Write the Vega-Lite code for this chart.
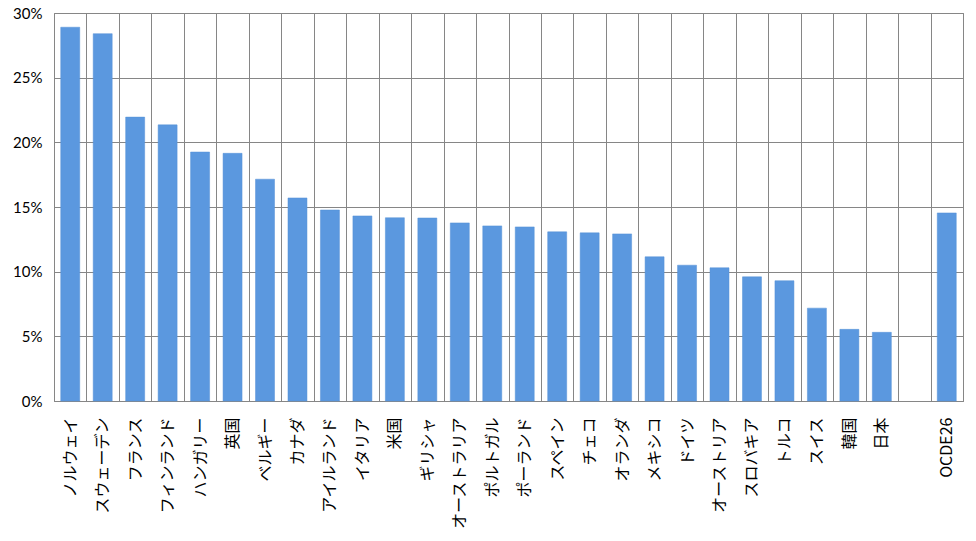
{
  "$schema": "https://vega.github.io/schema/vega-lite/v6.json",
  "width": 909,
  "height": 388,
  "autosize": {"type": "none"},
  "padding": {"left": 54, "top": 13, "right": 13, "bottom": 140},
  "background": "white",
  "config": {
    "view": {"stroke": "#868686", "strokeWidth": 1},
    "axis": {"gridColor": "#868686", "gridOpacity": 1, "gridWidth": 1}
  },
  "data": {
    "values": [
      {"country": "ノルウェイ", "rate": 28.9},
      {"country": "スウェーデン", "rate": 28.4},
      {"country": "フランス", "rate": 21.95},
      {"country": "フィンランド", "rate": 21.35},
      {"country": "ハンガリー", "rate": 19.25},
      {"country": "英国", "rate": 19.15},
      {"country": "ベルギー", "rate": 17.15},
      {"country": "カナダ", "rate": 15.7},
      {"country": "アイルランド", "rate": 14.77},
      {"country": "イタリア", "rate": 14.31},
      {"country": "米国", "rate": 14.17},
      {"country": "ギリシャ", "rate": 14.15},
      {"country": "オーストラリア", "rate": 13.77},
      {"country": "ポルトガル", "rate": 13.54},
      {"country": "ポーランド", "rate": 13.46},
      {"country": "スペイン", "rate": 13.08},
      {"country": "チェコ", "rate": 13.0},
      {"country": "オランダ", "rate": 12.92},
      {"country": "メキシコ", "rate": 11.15},
      {"country": "ドイツ", "rate": 10.5},
      {"country": "オーストリア", "rate": 10.3},
      {"country": "スロバキア", "rate": 9.6},
      {"country": "トルコ", "rate": 9.3},
      {"country": "スイス", "rate": 7.18},
      {"country": "韓国", "rate": 5.54},
      {"country": "日本", "rate": 5.31},
      {"country": "OCDE26", "rate": 14.54}
    ]
  },
  "mark": {"type": "bar", "color": "#5B98DF", "stroke": "#5590D6", "strokeWidth": 0.5, "width": {"band": 0.585}},
  "encoding": {
    "x": {
      "field": "country",
      "type": "nominal",
      "title": null,
      "scale": {
        "domain": ["ノルウェイ", "スウェーデン", "フランス", "フィンランド", "ハンガリー", "英国", "ベルギー", "カナダ", "アイルランド", "イタリア", "米国", "ギリシャ", "オーストラリア", "ポルトガル", "ポーランド", "スペイン", "チェコ", "オランダ", "メキシコ", "ドイツ", "オーストリア", "スロバキア", "トルコ", "スイス", "韓国", "日本", "_blank", "OCDE26"],
        "paddingInner": 0,
        "paddingOuter": 0
      },
      "axis": {
        "labelAngle": -90,
        "labelAlign": "right",
        "labelBaseline": "middle",
        "labelFont": "Noto Sans CJK JP",
        "labelFontSize": 16,
        "labelColor": "black",
        "labelPadding": 16,
        "labelExpr": "datum.label == '_blank' ? '' : datum.label",
        "ticks": false,
        "domainColor": "#868686",
        "grid": true,
        "tickBand": "extent"
      }
    },
    "y": {
      "field": "rate",
      "type": "quantitative",
      "title": null,
      "scale": {"domain": [0, 30], "nice": false},
      "axis": {
        "values": [0, 5, 10, 15, 20, 25, 30],
        "labelExpr": "datum.value + '%'",
        "labelFont": "Lato",
        "labelFontSize": 15,
        "labelColor": "black",
        "labelPadding": 12,
        "ticks": false,
        "domain": false,
        "grid": true
      }
    }
  }
}
